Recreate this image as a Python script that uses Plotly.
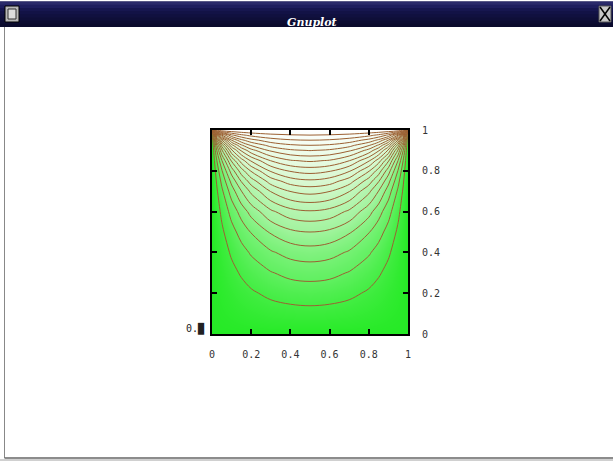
import plotly.graph_objects as go

# ---- data ----
x_vals = [0, 0.025, 0.05, 0.1, 0.15, 0.2, 0.3, 0.4, 0.5, 0.6, 0.7, 0.8, 0.85, 0.9, 0.95, 0.975, 1]
y_vals = [0, 0.1, 0.2, 0.3, 0.4, 0.5, 0.6, 0.7, 0.75, 0.8, 0.85, 0.9, 0.925, 0.95, 0.975, 1]

z_rows = [
    [0, 0, 0, 0, 0, 0, 0, 0, 0, 0, 0, 0, 0, 0, 0, 0, 0],
    [0, .003, .006, .011, .016, .021, .029, .033, .035, .033, .029, .021, .016, .011, .006, .003, 0],
    [0, .006, .012, .023, .034, .044, .060, .070, .074, .070, .060, .044, .034, .023, .012, .006, 0],
    [0, .010, .019, .038, .055, .071, .097, .114, .119, .114, .097, .071, .055, .038, .019, .010, 0],
    [0, .014, .029, .056, .082, .106, .144, .168, .177, .168, .144, .106, .082, .056, .029, .014, 0],
    [0, .021, .041, .082, .119, .153, .206, .239, .250, .239, .206, .153, .119, .082, .041, .021, 0],
    [0, .030, .060, .118, .171, .218, .290, .332, .345, .332, .290, .218, .171, .118, .060, .030, 0],
    [0, .045, .090, .175, .249, .312, .403, .452, .468, .452, .403, .312, .249, .175, .090, .045, 0],
    [0, .057, .113, .216, .305, .376, .474, .525, .541, .525, .474, .376, .305, .216, .113, .057, 0],
    [0, .074, .145, .274, .377, .456, .557, .606, .621, .606, .557, .456, .377, .274, .145, .074, 0],
    [0, .101, .197, .358, .475, .557, .652, .696, .708, .696, .652, .557, .475, .358, .197, .101, 0],
    [0, .153, .290, .489, .609, .682, .759, .792, .802, .792, .759, .682, .609, .489, .290, .153, 0],
    [0, .203, .370, .582, .692, .755, .817, .843, .850, .843, .817, .755, .692, .582, .370, .203, 0],
    [0, .294, .497, .699, .787, .833, .877, .895, .900, .895, .877, .833, .787, .699, .497, .294, 0],
    [0, .499, .703, .841, .891, .915, .938, .947, .950, .947, .938, .915, .891, .841, .703, .499, 0],
    [.5, 1, 1, 1, 1, 1, 1, 1, 1, 1, 1, 1, 1, 1, 1, 1, .5],
]

contour_start = 0.05
contour_end = 0.95
contour_step = 0.05

x_tick_vals = [0, 0.2, 0.4, 0.6, 0.8, 1]
x_tick_text = ["0", "0.2", "0.4", "0.6", "0.8", "1"]
y_tick_vals = [0, 0.2, 0.4, 0.6, 0.8, 1]
y_tick_text = ["0", "0.2", "0.4", "0.6", "0.8", "1"]

window_title = "Gnuplot"
corner_label = "0.█"

# ---- layout geometry (pixels) ----
W, H = 613, 461
L, R, T, B = 212, 408, 130, 334


def px(x):
    return (x - L) / (R - L)


def py(y):
    return (B - y) / (B - T)


fig = go.Figure()
fig.add_trace(go.Contour(
    x=x_vals, y=y_vals, z=z_rows,
    zmin=0, zmax=1,
    contours=dict(start=contour_start, end=contour_end, size=contour_step,
                  coloring="heatmap", showlines=True),
    colorscale=[[0, "#26ea26"], [0.1, "#60f060"], [0.25, "#a2f39e"],
                [0.5, "#d6f8ce"], [0.8, "#effcec"], [1, "#ffffff"]],
    line=dict(color="#9c6032", width=1, smoothing=1),
    showscale=False, hoverinfo="skip",
))

axis_common = dict(
    range=[0, 1], ticks="inside", ticklen=5, tickwidth=1.5, tickcolor="black",
    showline=True, linewidth=2, linecolor="black", mirror="allticks",
    showgrid=False, zeroline=False, ticklabelstandoff=10,
    tickfont=dict(family="DejaVu Sans Mono", size=10, color="#333333"),
)
fig.update_xaxes(tickvals=x_tick_vals, ticktext=x_tick_text, **axis_common)
fig.update_yaxes(tickvals=y_tick_vals, ticktext=y_tick_text, side="right", **axis_common)

shapes = []
# title bar: base + vertical gradient strips
top, bot = 1.5, 27
shapes.append(dict(type="rect", xref="paper", yref="paper", x0=px(0), x1=px(W),
                   y0=py(bot), y1=py(top), fillcolor="#14144a", line=dict(width=0)))
bar_cols = ["#2a2a6a", "#1e1e5e", "#16164f", "#121246", "#10103f", "#0e0e38", "#0c0c32", "#0a0a2c"]
n = len(bar_cols)
for i, c in enumerate(bar_cols):
    y0 = top + (bot - top) * i / n
    y1 = top + (bot - top) * (i + 1) / n + 0.6
    shapes.append(dict(type="rect", xref="paper", yref="paper", x0=px(0), x1=px(W),
                       y0=py(min(y1, bot)), y1=py(y0), fillcolor=c, line=dict(width=0)))
# left icon
shapes.append(dict(type="rect", xref="paper", yref="paper", x0=px(5), x1=px(19), y0=py(22), y1=py(6),
                   fillcolor="#b8b8b8", line=dict(color="black", width=1)))
shapes.append(dict(type="rect", xref="paper", yref="paper", x0=px(8), x1=px(16), y0=py(19), y1=py(9),
                   fillcolor="#dcdcdc", line=dict(color="#333333", width=1)))
# right close box
shapes.append(dict(type="rect", xref="paper", yref="paper", x0=px(599), x1=px(611), y0=py(22), y1=py(6),
                   fillcolor="#c8c8c8", line=dict(color="#555555", width=1)))
shapes.append(dict(type="line", xref="paper", yref="paper", x0=px(600), x1=px(610), y0=py(21), y1=py(7),
                   line=dict(color="black", width=1.5)))
shapes.append(dict(type="line", xref="paper", yref="paper", x0=px(600), x1=px(610), y0=py(7), y1=py(21),
                   line=dict(color="black", width=1.5)))
# window borders
shapes.append(dict(type="line", xref="paper", yref="paper", x0=px(4.5), x1=px(4.5), y0=py(458), y1=py(27),
                   line=dict(color="#888888", width=1)))
shapes.append(dict(type="line", xref="paper", yref="paper", x0=px(4.5), x1=px(W), y0=py(458), y1=py(458),
                   line=dict(color="#666666", width=1.5)))
shapes.append(dict(type="rect", xref="paper", yref="paper", x0=px(0), x1=px(W), y0=py(H), y1=py(459),
                   fillcolor="#d0d0d0", line=dict(width=0)))

annotations = [
    dict(xref="paper", yref="paper", x=px(312), y=py(14), text="<b><i>" + window_title + "</i></b>",
         showarrow=False, font=dict(family="DejaVu Serif", size=11, color="white")),
    dict(xref="paper", yref="paper", x=px(207), y=py(337), text=corner_label, xanchor="right",
         showarrow=False, font=dict(family="DejaVu Sans Mono", size=10, color="#222222")),
]

fig.update_layout(
    width=W, height=H, autosize=False,
    margin=dict(l=L, r=W - R, t=T, b=H - B, pad=0),
    paper_bgcolor="white", plot_bgcolor="white",
    shapes=shapes, annotations=annotations, showlegend=False,
)

fig.write_html("out.html", config={"displayModeBar": False},
               post_script="document.body.style.margin='0';document.body.style.overflow='hidden';")
